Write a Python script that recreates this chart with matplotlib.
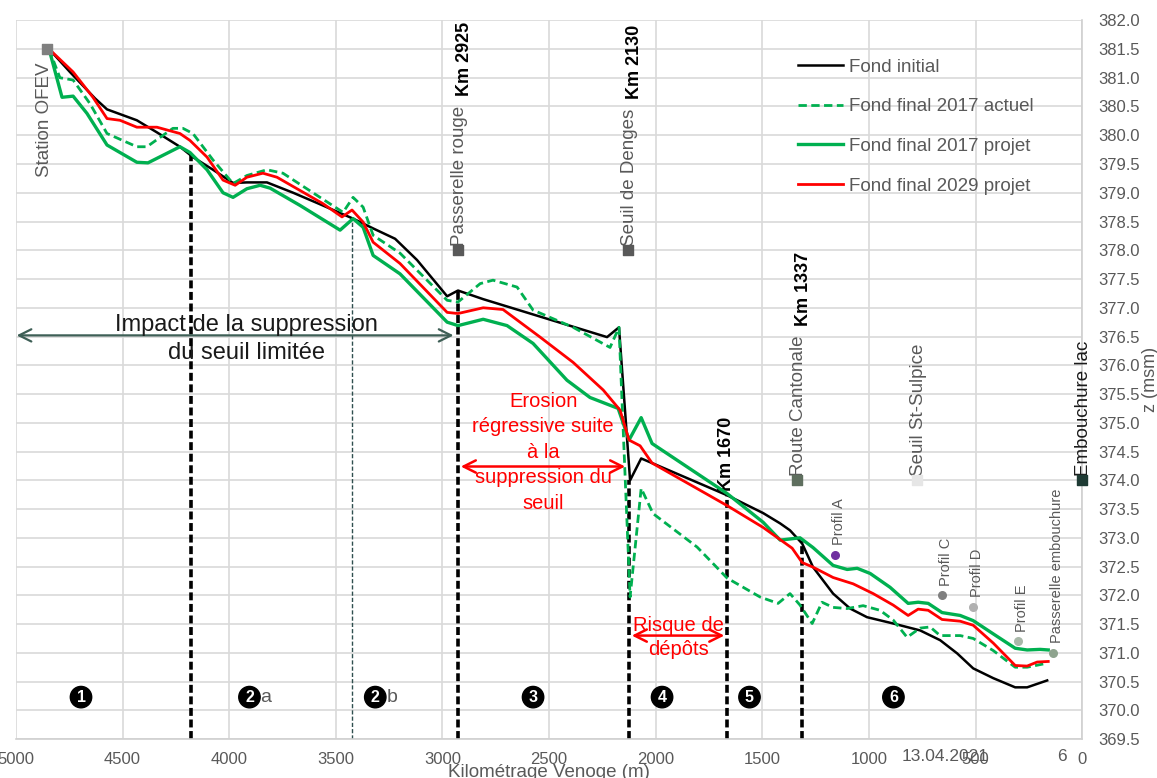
import matplotlib
matplotlib.use("Agg")
import matplotlib.pyplot as plt

plt.rcParams['font.family'] = ['Liberation Sans', 'DejaVu Sans']

# Profil en long de la Venoge (km depuis l'embouchure, altitude en msm)
init_x = [4845, 4747, 4629, 4573, 4433, 4339, 4231, 4170, 4076, 3982, 3917, 3823, 3700, 3574,
          3419, 3325, 3222, 3119, 2978, 2927, 2809, 2228, 2172, 2120, 2068, 2017, 1665, 1496,
          1416, 1370, 1313, 1262, 1168, 1088, 1009, 886, 760, 666, 586, 511, 417, 314, 258, 164]
init_z = [381.5, 381.1, 380.64, 380.45, 380.26, 380.05, 379.8, 379.62, 379.4, 379.17, 379.18,
          379.18, 379.0, 378.8, 378.55, 378.38, 378.2, 377.83, 377.2, 377.3, 377.15, 376.49,
          376.66, 374.0, 374.38, 374.3, 373.74, 373.43, 373.25, 373.13, 372.9, 372.49, 372.03,
          371.77, 371.62, 371.51, 371.39, 371.22, 370.99, 370.73, 370.56, 370.4, 370.4, 370.52]

act17_x = [4845, 4794, 4732, 4653, 4573, 4433, 4386, 4264, 4217, 4170, 4076, 3982, 3917, 3823,
           3748, 3574, 3466, 3419, 3372, 3325, 3199, 2978, 2927, 2823, 2763, 2650, 2575, 2387,
           2214, 2172, 2120, 2068, 2012, 1806, 1665, 1510, 1426, 1370, 1323, 1266, 1220, 1168,
           1102, 1027, 948, 886, 821, 760, 713, 666, 572, 511, 417, 314, 258, 164]
act17_z = [381.5, 381.0, 380.96, 380.55, 380.03, 379.8, 379.8, 380.12, 380.12, 380.03, 379.57,
           379.16, 379.3, 379.4, 379.34, 378.92, 378.66, 378.92, 378.75, 378.26, 377.95, 377.13,
           377.1, 377.42, 377.48, 377.36, 376.96, 376.66, 376.31, 376.66, 371.97, 373.86, 373.42,
           372.84, 372.3, 371.97, 371.86, 372.03, 371.83, 371.51, 371.88, 371.79, 371.77, 371.82,
           371.74, 371.57, 371.27, 371.43, 371.45, 371.3, 371.3, 371.25, 371.04, 370.75, 370.75,
           370.82]

proj17_x = [4845, 4784, 4732, 4667, 4573, 4433, 4381, 4231, 4184, 4104, 4029, 3982, 3917, 3855,
            3808, 3668, 3480, 3419, 3372, 3325, 3199, 2978, 2927, 2809, 2697, 2575, 2416, 2308,
            2176, 2125, 2068, 2017, 1665, 1496, 1416, 1323, 1262, 1168, 1102, 1055, 994, 901,
            816, 769, 722, 657, 572, 511, 417, 314, 258, 197, 159]
proj17_z = [381.5, 380.66, 380.68, 380.38, 379.83, 379.53, 379.52, 379.8, 379.7, 379.4, 379.0,
            378.92, 379.07, 379.13, 379.08, 378.78, 378.35, 378.55, 378.4, 377.91, 377.59, 376.75,
            376.69, 376.8, 376.69, 376.38, 375.74, 375.44, 375.25, 374.7, 375.09, 374.64, 373.77,
            373.27, 372.96, 373.0, 372.83, 372.52, 372.45, 372.47, 372.38, 372.14, 371.86, 371.88,
            371.86, 371.7, 371.65, 371.56, 371.33, 371.08, 371.05, 371.06, 371.05]

proj29_x = [4845, 4732, 4639, 4573, 4512, 4433, 4339, 4231, 4184, 4104, 4029, 3972, 3917, 3842,
            3776, 3668, 3560, 3471, 3424, 3372, 3325, 3199, 2978, 2927, 2809, 2716, 2542, 2387,
            2246, 2167, 2125, 2073, 2017, 1665, 1496, 1360, 1313, 1262, 1168, 1074, 980, 886,
            816, 769, 722, 657, 572, 511, 417, 314, 258, 211, 159]
proj29_z = [381.5, 381.1, 380.66, 380.29, 380.26, 380.14, 380.14, 380.03, 379.91, 379.62, 379.22,
            379.13, 379.27, 379.34, 379.27, 379.04, 378.81, 378.58, 378.7, 378.49, 378.14, 377.77,
            376.92, 376.9, 377.0, 376.97, 376.49, 376.05, 375.57, 375.22, 374.7, 374.6, 374.3,
            373.56, 373.18, 372.82, 372.57, 372.49, 372.31, 372.2, 372.03, 371.83, 371.65, 371.76,
            371.74, 371.58, 371.55, 371.48, 371.17, 370.78, 370.77, 370.84, 370.85]

# ouvrages (carrés) : nom, km, altitude, couleur, étiquette km
ouvrages = [
    ("Station OFEV", 4855, 381.5, "#7f7f7f", None),
    ("Passerelle rouge", 2927, 378.0, "#595959", "Km 2925"),
    ("Seuil de Denges", 2130, 378.0, "#595959", "Km 2130"),
    ("Route Cantonale", 1337, 374.0, "#5f6f5f", "Km 1337"),
    ("Seuil St-Sulpice", 774, 374.0, "#e6e6e6", None),
    ("Embouchure lac", 0, 374.0, "#1e3b34", None),
]

# profils (points)
profils = ["Profil A", "Profil C", "Profil D", "Profil E", "Passerelle embouchure"]
profil_x = [1159, 657, 511, 300, 136]
profil_z = [372.7, 372.0, 371.8, 371.2, 371.0]
profil_col = ["#7030a0", "#7f7f7f", "#b0b0b0", "#a9b8a9", "#8ea38e"]

# limites de tronçons : km, altitude du haut du trait
limites_x = [4179, 3424, 2927, 2125, 1665, 1315]
limites_top = [379.65, 378.55, 377.3, 374.0, 373.74, 372.95]

# numéros des tronçons
troncons = ["1", "2", "2", "3", "4", "5", "6"]
troncons_suffix = ["", "a", "b", "", "", "", ""]
troncons_x = [4695, 3905, 3315, 2575, 1970, 1560, 885]
troncons_z = [370.23] * 7

grey = "#595959"

fig = plt.figure(figsize=(11.57, 7.78), dpi=100)
ax = fig.add_axes([0.0138, 0.05, 0.9215, 0.924])

ax.set_xlim(5000, 0)
ax.set_ylim(369.5, 382.0)
ax.set_xticks(range(0, 5001, 500))
ax.set_yticks([369.5 + 0.5 * i for i in range(26)])
ax.set_yticklabels(["%.1f" % (369.5 + 0.5 * i) for i in range(26)])
ax.yaxis.tick_right()
ax.yaxis.set_label_position("right")
ax.tick_params(axis="both", length=0, labelsize=12, colors=grey, pad=9)
ax.tick_params(axis="y", pad=12)
ax.grid(True, color="#d9d9d9", lw=1.2)
ax.set_axisbelow(True)
for s in ["top", "left"]:
    ax.spines[s].set_visible(False)
for s in ["bottom", "right"]:
    ax.spines[s].set_color("#d0d0d0")
    ax.spines[s].set_linewidth(1.2)

ax.set_xlabel("Kilométrage Venoge (m)", fontsize=13.5, color=grey, labelpad=-2)
ax.set_ylabel("z (msm)", fontsize=13, color=grey, labelpad=1)

# limites de tronçons
for i, (lx, lt) in enumerate(zip(limites_x, limites_top)):
    if i == 1:
        ax.plot([lx, lx], [369.5, lt], color="#2f4f4f", lw=1.0, ls=(0, (3, 1.5)), zorder=2)
    else:
        ax.plot([lx, lx], [369.5, lt], color="black", lw=2.6, ls=(0, (2.2, 1)), zorder=2)

ax.plot(init_x, init_z, color="black", lw=1.8, label="Fond initial", zorder=3)
ax.plot(act17_x, act17_z, color="#00b050", lw=2.0, ls=(0, (3, 1.6)),
        label="Fond final 2017 actuel", zorder=4)
ax.plot(proj17_x, proj17_z, color="#00b050", lw=2.4, label="Fond final 2017 projet", zorder=5)
ax.plot(proj29_x, proj29_z, color="#ff0000", lw=2.0, label="Fond final 2029 projet", zorder=6)

leg = ax.legend(loc="upper right", bbox_to_anchor=(0.97, 0.97), frameon=False, fontsize=13.5,
                handlelength=2.4, handletextpad=0.3, labelspacing=1.2)
for t in leg.get_texts():
    t.set_color(grey)

# ouvrages
for nom, ox, oz, col, km in ouvrages:
    ax.scatter([ox], [oz], marker="s", s=55, color=col, zorder=7, clip_on=False)
    if nom == "Station OFEV":
        ax.annotate(nom, (ox, oz), xytext=(-2, -10), textcoords="offset points",
                    rotation=90, ha="center", va="top", fontsize=13.5, color=grey)
        continue
    tcol = "#1a1a1a" if nom == "Embouchure lac" else grey
    lab = ax.annotate(nom, (ox, oz), xytext=(1, 3), textcoords="offset points",
                      rotation=90, ha="center", va="bottom", fontsize=13.5, color=tcol)
    if km is not None:
        fig.canvas.draw()
        bb = lab.get_window_extent()
        ax.annotate(km, (ox, oz), xytext=(5, (bb.y1 - bb.y0) * 0.72 + 10),
                    textcoords="offset points", rotation=90, ha="center", va="bottom",
                    fontsize=13, fontweight="bold", color="black")

ax.text(1670, 373.82, "Km 1670", rotation=90, ha="center", va="bottom", fontsize=13,
        fontweight="bold", color="black")

# profils
for nom, px, pz, col in zip(profils, profil_x, profil_z, profil_col):
    ax.scatter([px], [pz], s=30, color=col, zorder=7)
    ax.annotate(nom, (px, pz), xytext=(3, 7), textcoords="offset points", rotation=90,
                ha="center", va="bottom", fontsize=10.5, color=grey)

# flèches et commentaires
ax.annotate("", xy=(5010, 376.52), xytext=(2935, 376.52), annotation_clip=False,
            arrowprops=dict(arrowstyle="<->", color="#3e5f56", lw=1.6, mutation_scale=22))
ax.text(3920, 376.46, "Impact de la suppression\ndu seuil limitée", ha="center", va="center",
        fontsize=17, color="#1a1a1a", linespacing=1.38)

ax.annotate("", xy=(2927, 374.24), xytext=(2130, 374.24),
            arrowprops=dict(arrowstyle="<->", color="#ff0000", lw=1.8, mutation_scale=22))
ax.text(2527, 374.49, "Erosion\nrégressive suite\nà la\nsuppression du\nseuil", ha="center",
        va="center", fontsize=14.5, color="#ff0000", linespacing=1.43)

ax.annotate("", xy=(2125, 371.3), xytext=(1665, 371.3),
            arrowprops=dict(arrowstyle="<->", color="#ff0000", lw=1.8, mutation_scale=22))
ax.text(1895, 371.27, "Risque de\ndépôts", ha="center", va="center", fontsize=14.5,
        color="#ff0000", linespacing=1.35)

# numéros de tronçons
for n, suf, tx, tz in zip(troncons, troncons_suffix, troncons_x, troncons_z):
    ax.text(tx, tz, n, ha="center", va="center", fontsize=11.5, color="white",
            fontweight="bold", zorder=8,
            bbox=dict(boxstyle="circle,pad=0.2", fc="black", ec="black"))
    if suf:
        ax.annotate(suf, (tx, tz), xytext=(8, 0), textcoords="offset points",
                    ha="left", va="center", fontsize=14, color=grey)

fig.text(0.817, 0.028, "13.04.2021", fontsize=12.5, color=grey, ha="center", va="center")
fig.text(0.918, 0.028, "6", fontsize=12.5, color=grey, ha="center", va="center")

fig.savefig("out.png", dpi=100)
